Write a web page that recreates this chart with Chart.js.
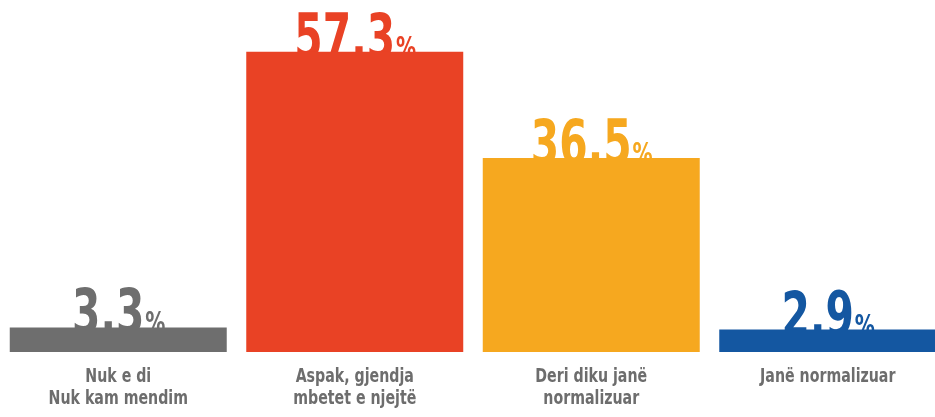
<!DOCTYPE html>
<html>
<head>
<meta charset="utf-8">
<script src="https://cdn.jsdelivr.net/npm/chart.js@4"></script>
<style>
  html, body { margin: 0; padding: 0; background: #fff; overflow: hidden; }
  #wrap { width: 946px; height: 417px; }
</style>
</head>
<body>
<div id="wrap"><canvas id="chart" width="946" height="417"></canvas></div>
<script>
// category labels (multi-line) and values
const categories = [
  ['Nuk e di', 'Nuk kam mendim'],
  ['Aspak, gjendja', 'mbetet e njejtë'],
  ['Deri diku janë', 'normalizuar'],
  ['Janë normalizuar']
];
const values = [3.3, 57.3, 36.5, 2.9];
const barColors = ['#6e6e6e', '#e94225', '#f6a81f', '#1457a1'];

const FONT = '"DejaVu Sans Condensed", "Liberation Sans Narrow", sans-serif';

// draw text squeezed horizontally to imitate a condensed face
function squeezed(ctx, text, x, y, sx) {
  ctx.save();
  ctx.translate(x, y);
  ctx.scale(sx, 1);
  ctx.fillText(text, 0, 0);
  ctx.restore();
}

const labelsPlugin = {
  id: 'labels',
  // value labels go under the bars so the bar top covers the baseline
  beforeDatasetsDraw(chart) {
    const ctx = chart.ctx;
    const meta = chart.getDatasetMeta(0);
    const sx = 0.72;
    ctx.save();
    meta.data.forEach((bar, i) => {
      const num = values[i].toFixed(1).replace('.', ',');
      ctx.font = 'bold 63px ' + FONT;
      const w1 = ctx.measureText(num).width * sx;
      ctx.font = 'bold 31px ' + FONT;
      const w2 = ctx.measureText('%').width * sx;
      const x0 = bar.x - (w1 + w2) / 2;
      const y = bar.y + 6;
      ctx.fillStyle = barColors[i];
      ctx.textBaseline = 'alphabetic';
      ctx.textAlign = 'left';
      ctx.font = 'bold 63px ' + FONT;
      squeezed(ctx, num, x0, y, sx);
      ctx.font = 'bold 31px ' + FONT;
      squeezed(ctx, '%', x0 + w1 + 1, y, sx);
    });
    ctx.restore();
  },
  afterDraw(chart) {
    const ctx = chart.ctx;
    const xScale = chart.scales.x;
    ctx.save();
    ctx.fillStyle = '#6d6d6d';
    ctx.font = 'bold 19px ' + FONT;
    ctx.textAlign = 'center';
    ctx.textBaseline = 'alphabetic';
    categories.forEach((lines, i) => {
      const x = xScale.getPixelForValue(i);
      lines.forEach((t, j) => squeezed(ctx, t, x, 382 + j * 22, 0.83));
    });
    ctx.restore();
  }
};

new Chart(document.getElementById('chart'), {
  type: 'bar',
  data: {
    labels: categories.map(c => c.join(' ')),
    datasets: [{
      data: values,
      backgroundColor: barColors,
      base: -1.5,
      barPercentage: 0.9175,
      categoryPercentage: 1.0
    }]
  },
  options: {
    responsive: false,
    animation: false,
    layout: { padding: { top: 38, bottom: 65, left: 0, right: 0 } },
    plugins: { legend: { display: false }, tooltip: { enabled: false } },
    scales: {
      x: { display: false },
      y: { display: false, min: -1.5, max: 60 }
    }
  },
  plugins: [labelsPlugin]
});
</script>
</body>
</html>
